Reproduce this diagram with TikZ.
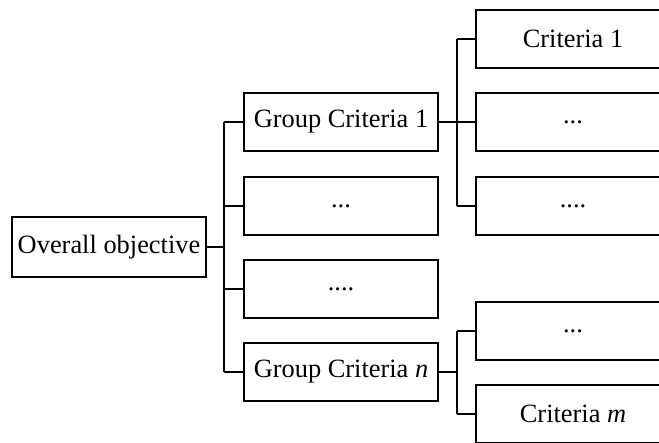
\documentclass[tikz,border=0pt]{standalone}
\usepackage{fontspec}
\setmainfont{Liberation Serif}
\begin{document}
\begin{tikzpicture}[x=1pt,y=-1pt,
  boxnode/.style={draw, line width=2.2pt, rectangle, inner sep=0pt, minimum width=194pt, minimum height=58pt,
    font=\fontsize{26.4}{30}\selectfont, anchor=center},
  link/.style={line width=2pt}]
\useasboundingbox (0,0) rectangle (659,443);
\clip (0,0) rectangle (659,443);
\fill[white] (0,0) rectangle (659,443);
% buses
\coordinate (bA) at (224,0);
\coordinate (bB) at (457,0);
% nodes
\node[boxnode, minimum height=60pt] (obj) at (109,247) {Overall objective};
\node[boxnode] (g1) at (341,122) {Group Criteria 1};
\node[boxnode] (g2) at (341,206) {...};
\node[boxnode] (g3) at (341,289) {....};
\node[boxnode] (gn) at (341,372) {Group Criteria \textit{n}};
\node[boxnode] (c1) at (573,39) {Criteria 1};
\node[boxnode] (c2) at (573,122) {...};
\node[boxnode] (c3) at (573,206) {....};
\node[boxnode] (c4) at (573,331) {...};
\node[boxnode] (cm) at (573,414) {Criteria \textit{m}};
% connectors
\draw[link] (obj.east) -- (obj.east -| bA);
\draw[link] (g1.west -| bA) -- (gn.west -| bA);
\foreach \g in {g1,g2,g3,gn} \draw[link] (\g.west) -- (\g.west -| bA);
\draw[link] (g1.east) -- (g1.east -| bB);
\draw[link] (c1.west -| bB) -- (c3.west -| bB);
\foreach \c in {c1,c2,c3} \draw[link] (\c.west) -- (\c.west -| bB);
\draw[link] (gn.east) -- (gn.east -| bB);
\draw[link] (c4.west -| bB) -- (cm.west -| bB);
\foreach \c in {c4,cm} \draw[link] (\c.west) -- (\c.west -| bB);
\end{tikzpicture}
\end{document}
